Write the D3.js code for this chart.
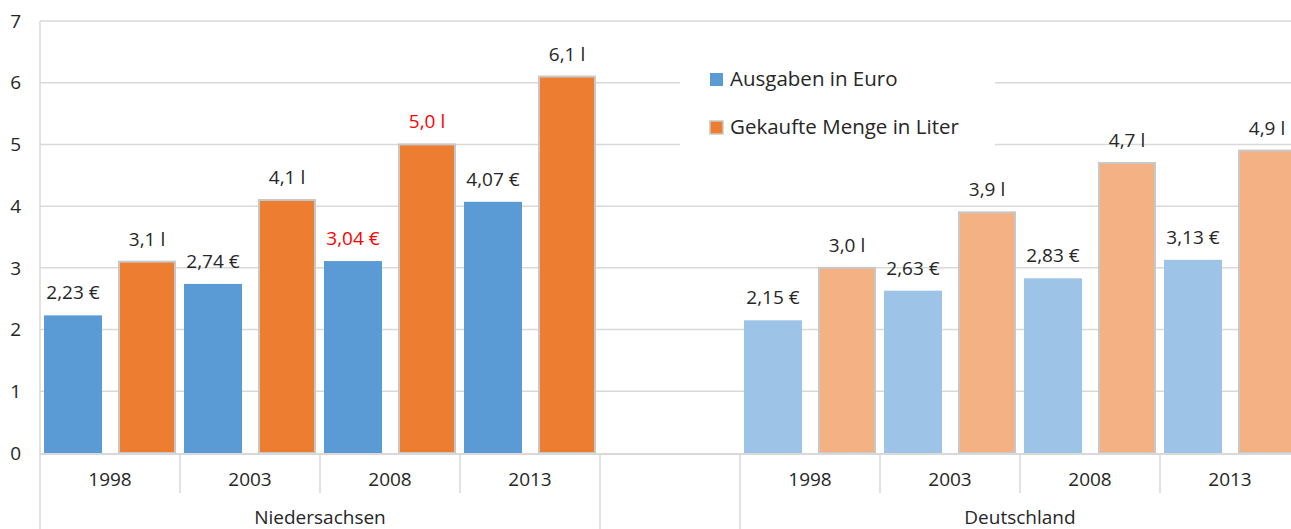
<!DOCTYPE html>
<html>
<head>
<meta charset="utf-8">
<script src="https://cdn.jsdelivr.net/npm/d3@7"></script>
<style>
  body { margin: 0; background: #fff; }
  svg { display: block; font-family: "Open Sans", sans-serif; }
</style>
</head>
<body>
<div id="chart"></div>
<script>
// Chart data
const years = ['1998', '2003', '2008', '2013'];
const groups = ['Niedersachsen', '', 'Deutschland'];
const seriesNames = ['Ausgaben in Euro', 'Gekaufte Menge in Liter'];

const ausgabenNds = [2.23, 2.74, 3.11, 4.07];
const mengeNds = [3.1, 4.1, 5.0, 6.1];
const ausgabenDe = [2.15, 2.63, 2.83, 3.13];
const mengeDe = [3.0, 3.9, 4.7, 4.9];

const ausgabenLabelsNds = ['2,23 €', '2,74 €', '3,04 €', '4,07 €'];
const mengeLabelsNds = ['3,1 l', '4,1 l', '5,0 l', '6,1 l'];
const ausgabenLabelsDe = ['2,15 €', '2,63 €', '2,83 €', '3,13 €'];
const mengeLabelsDe = ['3,0 l', '3,9 l', '4,7 l', '4,9 l'];

// labels shown in red
const redLabels = ['Niedersachsen-2008-0', 'Niedersachsen-2008-1'];

const yTicks = [0, 1, 2, 3, 4, 5, 6, 7];

const colors = {
  Niedersachsen: ['#5b9bd5', '#ed7d31'],
  Deutschland: ['#9dc3e6', '#f4b183']
};

// Slots along the x axis: 4 years, one empty slot, 4 years
const slots = [];
years.forEach(y => slots.push({ key: 'Niedersachsen-' + y, group: 'Niedersachsen', year: y }));
slots.push({ key: 'gap', group: '', year: '' });
years.forEach(y => slots.push({ key: 'Deutschland-' + y, group: 'Deutschland', year: y }));

const bars = [];
years.forEach((y, i) => {
  bars.push({ slot: 'Niedersachsen-' + y, group: 'Niedersachsen', s: 0, value: ausgabenNds[i], label: ausgabenLabelsNds[i], id: 'Niedersachsen-' + y + '-0' });
  bars.push({ slot: 'Niedersachsen-' + y, group: 'Niedersachsen', s: 1, value: mengeNds[i], label: mengeLabelsNds[i], id: 'Niedersachsen-' + y + '-1' });
  bars.push({ slot: 'Deutschland-' + y, group: 'Deutschland', s: 0, value: ausgabenDe[i], label: ausgabenLabelsDe[i], id: 'Deutschland-' + y + '-0' });
  bars.push({ slot: 'Deutschland-' + y, group: 'Deutschland', s: 1, value: mengeDe[i], label: mengeLabelsDe[i], id: 'Deutschland-' + y + '-1' });
});

const W = 1291, H = 529;
const plotLeft = 40, plotRight = 1300, plotTop = 21, plotBottom = 453;
const grid = '#d9d9d9';
const textColor = '#262626';
const fontSize = 19;

const svg = d3.select('#chart').append('svg')
  .attr('width', W)
  .attr('height', H);

const x = d3.scaleBand()
  .domain(slots.map(d => d.key))
  .range([plotLeft, plotRight])
  .padding(0);

const xs = d3.scaleBand()
  .domain([0, 1])
  .range([0, x.bandwidth()])
  .paddingInner(0.216)
  .paddingOuter(0.054);

const y = d3.scaleLinear()
  .domain([0, 7])
  .range([plotBottom, plotTop]);

// Grid lines
svg.append('g')
  .selectAll('line')
  .data(yTicks.filter(t => t > 0))
  .enter()
  .append('line')
  .attr('x1', plotLeft)
  .attr('x2', W)
  .attr('y1', d => y(d))
  .attr('y2', d => y(d))
  .attr('stroke', grid)
  .attr('stroke-width', 1.5);

// Y tick labels
svg.append('g')
  .selectAll('text')
  .data(yTicks)
  .enter()
  .append('text')
  .attr('x', 21)
  .attr('y', d => y(d))
  .attr('dy', '0.35em')
  .attr('text-anchor', 'end')
  .style('font-size', fontSize + 'px')
  .style('fill', textColor)
  .text(d => d);

// Bars
svg.append('g')
  .selectAll('rect')
  .data(bars)
  .enter()
  .append('rect')
  .attr('x', d => x(d.slot) + xs(d.s) + (d.s === 1 ? 1 : 0))
  .attr('y', d => y(d.value))
  .attr('width', d => xs.bandwidth() - (d.s === 1 ? 2 : 0))
  .attr('height', d => plotBottom - y(d.value))
  .attr('fill', d => colors[d.group][d.s])
  .attr('stroke', d => d.s === 1 ? '#c8c8c8' : 'none')
  .attr('stroke-width', 2);

// Data labels
svg.append('g')
  .selectAll('text')
  .data(bars)
  .enter()
  .append('text')
  .attr('x', d => x(d.slot) + xs(d.s) + xs.bandwidth() / 2)
  .attr('y', d => y(d.value) - 16)
  .attr('text-anchor', 'middle')
  .style('font-size', fontSize + 'px')
  .style('fill', d => redLabels.includes(d.id) ? '#ff0000' : textColor)
  .text(d => d.label);

// X axis base line
svg.append('line')
  .attr('x1', plotLeft)
  .attr('x2', W)
  .attr('y1', plotBottom + 1)
  .attr('y2', plotBottom + 1)
  .attr('stroke', grid)
  .attr('stroke-width', 2);

// Vertical axis line
svg.append('line')
  .attr('x1', plotLeft)
  .attr('x2', plotLeft)
  .attr('y1', plotTop)
  .attr('y2', H)
  .attr('stroke', grid)
  .attr('stroke-width', 1.5);

// Category separators
const separators = svg.append('g');
slots.forEach((d, i) => {
  if (i === 0) return;
  const prev = slots[i - 1];
  const long = prev.group !== d.group;
  separators.append('line')
    .attr('x1', x(d.key))
    .attr('x2', x(d.key))
    .attr('y1', plotBottom)
    .attr('y2', long ? H : 493)
    .attr('stroke', grid)
    .attr('stroke-width', 1.5);
});

// Year labels
svg.append('g')
  .selectAll('text')
  .data(slots.filter(d => d.year))
  .enter()
  .append('text')
  .attr('x', d => x(d.key) + x.bandwidth() / 2)
  .attr('y', 486)
  .attr('text-anchor', 'middle')
  .style('font-size', fontSize + 'px')
  .style('fill', textColor)
  .text(d => d.year);

// Group labels
svg.append('g')
  .selectAll('text')
  .data(groups.filter(g => g))
  .enter()
  .append('text')
  .attr('x', g => {
    const ks = slots.filter(d => d.group === g).map(d => d.key);
    return (x(ks[0]) + x(ks[ks.length - 1]) + x.bandwidth()) / 2;
  })
  .attr('y', 524)
  .attr('text-anchor', 'middle')
  .style('font-size', fontSize + 'px')
  .style('fill', textColor)
  .text(g => g);

// Legend
const legend = svg.append('g').attr('transform', 'translate(680, 50)');
legend.append('rect')
  .attr('width', 315)
  .attr('height', 110)
  .attr('fill', '#fff');

legend.selectAll('g')
  .data(seriesNames)
  .enter()
  .append('g')
  .attr('transform', (_, i) => `translate(30, ${23 + i * 48})`)
  .each(function(d, i) {
    const g = d3.select(this);
    g.append('rect')
      .attr('width', 13)
      .attr('height', 13)
      .attr('fill', colors.Niedersachsen[i])
      .attr('stroke', i === 1 ? '#c8c8c8' : 'none')
      .attr('stroke-width', 1.5);
    g.append('text')
      .attr('x', 20)
      .attr('y', 13)
      .style('font-size', '20.5px')
      .style('fill', textColor)
      .text(d);
  });
</script>
</body>
</html>
